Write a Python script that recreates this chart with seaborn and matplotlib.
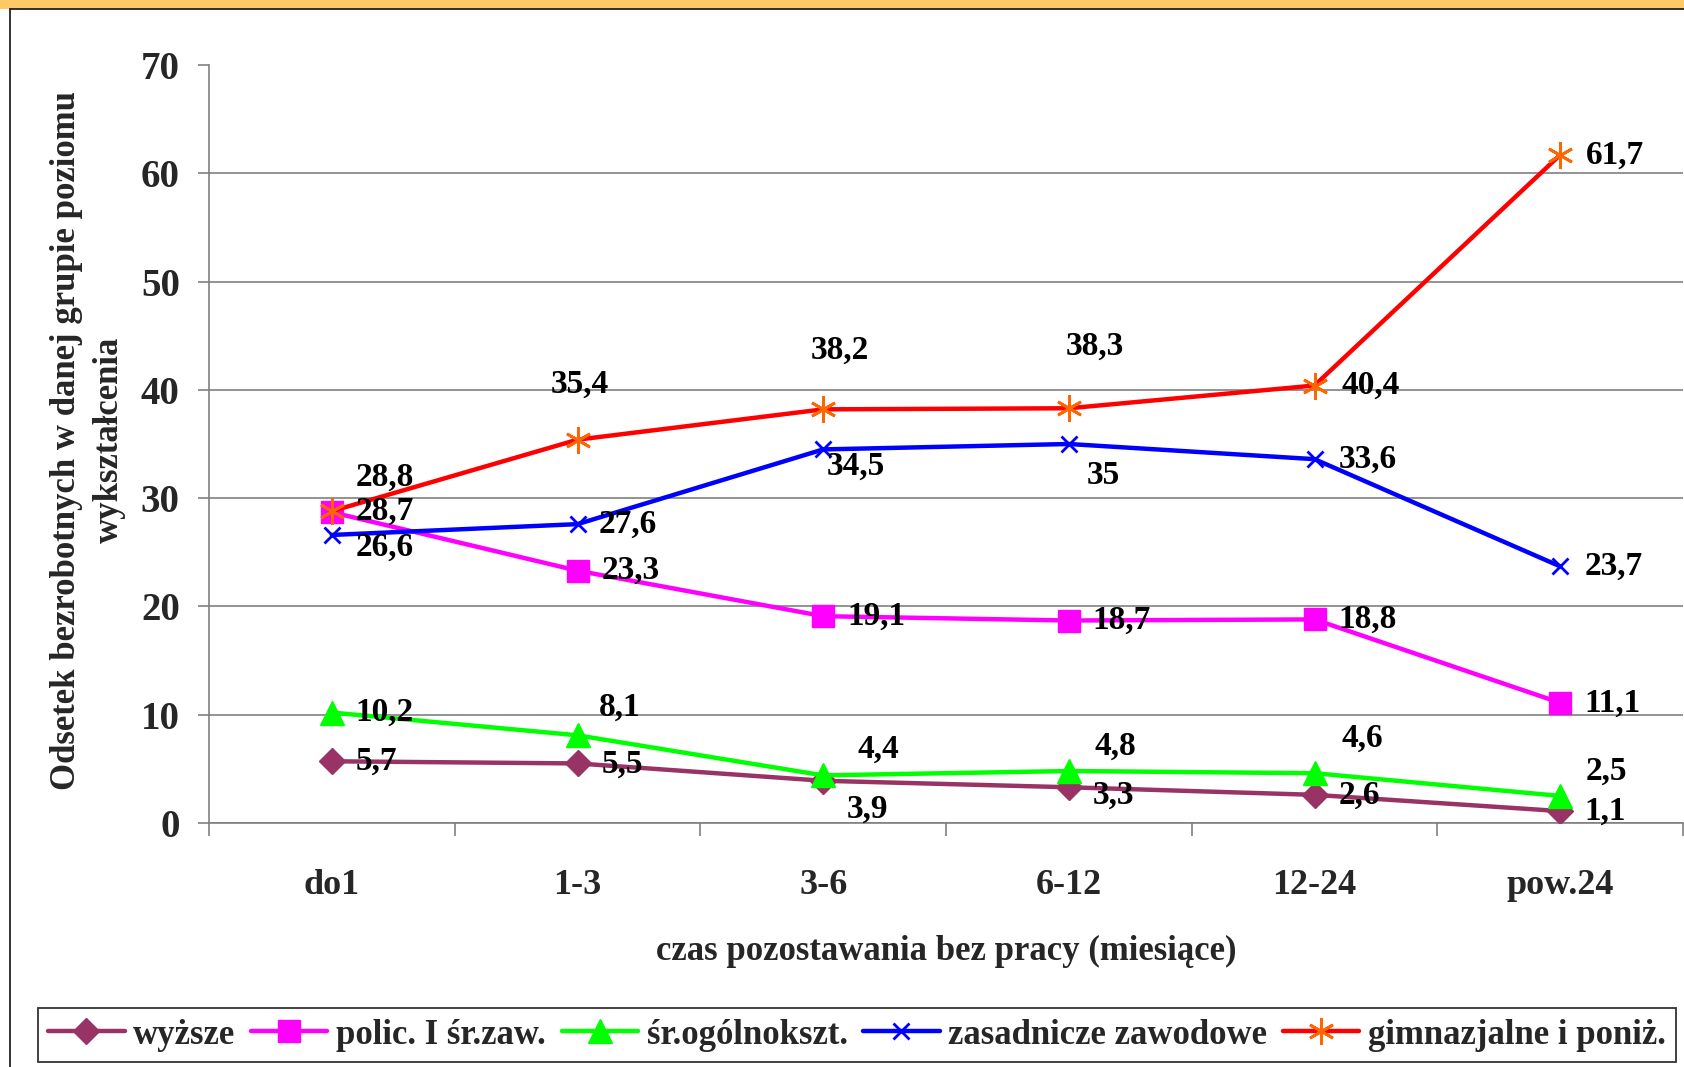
import numpy as np
import pandas as pd
import matplotlib
matplotlib.use("Agg")
import matplotlib.pyplot as plt
import seaborn as sns
from matplotlib.patches import Rectangle
from matplotlib.colors import LinearSegmentedColormap

# ---------------- data ----------------
categories = ["do1", "1-3", "3-6", "6-12", "12-24", "pow.24"]
wyzsze = [5.7, 5.5, 3.9, 3.3, 2.6, 1.1]
polic = [28.7, 23.3, 19.1, 18.7, 18.8, 11.1]
sr_ogolne = [10.2, 8.1, 4.4, 4.8, 4.6, 2.5]
zasadnicze = [26.6, 27.6, 34.5, 35.0, 33.6, 23.7]
gimnazjalne = [28.8, 35.4, 38.2, 38.3, 40.4, 61.7]
series_names = ["wyższe", "polic. I śr.zaw.", "śr.ogólnokszt.",
                "zasadnicze zawodowe", "gimnazjalne i poniż."]
y_ticks = [0, 10, 20, 30, 40, 50, 60, 70]
x_title = "czas pozostawania bez pracy (miesiące)"
y_title = "Odsetek bezrobotnych w danej grupie poziomu\nwykształcenia"

# ---------------- styles ----------------
styles = [
    dict(color="#993366", marker="D", ms=13, mfc="#993366", mec="#993366", mew=1),
    dict(color="#FF00FF", marker="s", ms=16, mfc="#FF00FF", mec="#FF00FF", mew=1),
    dict(color="#00FF00", marker="^", ms=17, mfc="#00FF00", mec="#00FF00", mew=1),
    dict(color="#0000FF", marker="x", ms=11, mfc="#0000FF", mec="#0000FF", mew=2),
    dict(color="#FF0000", marker=(6, 2, 0), ms=19, mfc="#FF6600", mec="#FF6600", mew=2),
]
# label offsets (pixels) for text left edge / vertical centre
label_offsets = [
    [(24, 0), (24, -1), (24, -28), (24, -8), (24, 0), (24, 0)],
    [(24, 1), (24, 0), (24, 0), (24, 0), (24, 0), (24, 0)],
    [(24, 0), (21, 28), (34, 26), (26, 25), (27, 35), (25, 25)],
    [(24, -12), (21, 0), (4, -17), (18, -31), (24, 0), (24, 0)],
    [(24, 34), (-27, 55), (-12, 59), (-3, 62), (27, 0), (26, 0)],
]

all_series = [wyzsze, polic, sr_ogolne, zasadnicze, gimnazjalne]

W, H = 1684, 1067
sns.set_theme(style="white")
plt.rcParams["font.family"] = ["Liberation Serif", "DejaVu Serif"]
plt.rcParams["font.weight"] = "bold"

fig = plt.figure(figsize=(W / 100, H / 100), dpi=100)

# background frame
bg = fig.add_axes([0, 0, 1, 1], zorder=-10)
bg.axis("off")
bg.add_patch(Rectangle((0, 0), W, H, color="white"))
bg.add_patch(Rectangle((0, 0), W, 8.5, color="#FFC966", lw=0))
grad = np.linspace(0, 1, 256).reshape(-1, 1)
cmap = LinearSegmentedColormap.from_list("o", ["#FFC966", "#FF9A33"])
bg.imshow(grad, cmap=cmap, extent=(0, 9.5, H, 0), aspect="auto")
bg.plot([9.5, W], [9, 9], color="#222222", lw=1.3)
bg.plot([10, 10], [9, H], color="#222222", lw=1.3)
bg.set_xlim(0, W)
bg.set_ylim(H, 0)

ax = fig.add_axes([209 / W, 1 - 823 / H, (1683 - 209) / W, (823 - 65) / H])
ax.set_facecolor("none")

x = np.arange(len(categories))
for vals, name, st in zip(all_series, series_names, styles):
    df = pd.DataFrame({"x": x, "y": vals})
    sns.lineplot(data=df, x="x", y="y", ax=ax, color=st["color"], lw=3.2,
                 marker=st["marker"], markersize=st["ms"],
                 markerfacecolor=st["mfc"], markeredgecolor=st["mec"],
                 markeredgewidth=st["mew"], label=name, zorder=3)

for vals, offs in zip(all_series, label_offsets):
    for xi, v, (dx, dy) in zip(x, vals, offs):
        txt = f"{v:g}".replace(".", ",")
        ax.annotate(txt, (xi, v), xytext=(dx, dy), textcoords="offset pixels",
                    ha="left", va="center", fontsize=24, fontweight="bold",
                    color="black", zorder=10)

ax.set_xlim(-0.5, len(categories) - 0.5)
ax.set_ylim(0, 70)
ax.set_yticks(y_ticks)
ax.set_yticklabels([str(t) for t in y_ticks], fontsize=28, fontweight="bold")
ax.tick_params(axis="y", direction="out", length=8, width=1.2, color="#808080",
               pad=13, left=True)
ax.yaxis.grid(True, color="#808080", lw=1.2)
ax.get_ygridlines()[-1].set_visible(False)

ax.set_xticks(np.arange(len(categories) + 1) - 0.5)
ax.set_xticklabels([])
ax.set_xticks(x, minor=True)
ax.set_xticklabels(categories, minor=True, fontsize=26, fontweight="bold")
ax.tick_params(axis="x", which="major", direction="out", length=9, width=1.2,
               color="#808080", bottom=True)
ax.tick_params(axis="x", which="minor", length=0, pad=33)
ax.xaxis.grid(False)

for s in ["top", "right"]:
    ax.spines[s].set_visible(False)
for s in ["left", "bottom"]:
    ax.spines[s].set_color("#808080")
    ax.spines[s].set_linewidth(1.2)

ax.set_xlabel(x_title, fontsize=25, fontweight="bold", labelpad=24)
ax.set_ylabel("")
fig.text(88 / W, 1 - 440 / H, y_title, rotation=90, ha="center", va="center",
         fontsize=25, fontweight="bold", linespacing=1.4, multialignment="center")

handles, labels = ax.get_legend_handles_labels()
ax.get_legend().remove()
leg = fig.legend(handles, labels, loc="center", ncol=5,
                 bbox_to_anchor=(0.5 * (43 + 1671) / W, 1 - 1035 / H),
                 prop=dict(weight="bold", size=25),
                 frameon=True, fancybox=False, edgecolor="black",
                 handlelength=2.2, handletextpad=0.25, columnspacing=0.45,
                 borderpad=0.3, borderaxespad=0)
leg.get_frame().set_linewidth(1.3)

fig.savefig("out.png", dpi=100)
